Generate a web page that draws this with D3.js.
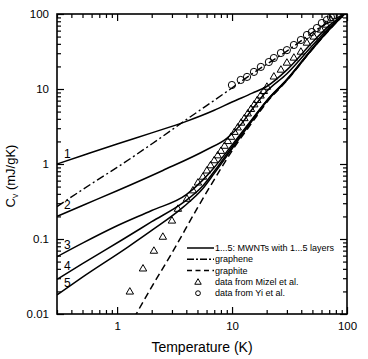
<!DOCTYPE html>
<html>
<head>
<meta charset="utf-8">
<script src="https://cdn.jsdelivr.net/npm/d3@7"></script>
<style>
  body { margin: 0; background: #fff; }
  svg { font-family: "Liberation Sans", Arial, sans-serif; }
</style>
</head>
<body>
<svg width="368" height="359"></svg>
<script>
// MWNT curves, 1..5 layers: [T (K), Cv (mJ/gK)]
const mwnt1 = [[0.3,1.0],[0.5,1.3],[1,1.85],[2,2.6],[4,3.7],[7,5.2],[10,6.7],[15,8.8],[20,10.8],[30,18],[50,42],[70,70],[95,100]];
const mwnt2 = [[0.3,0.2],[0.5,0.28],[1,0.44],[2.5,0.82],[6,1.55],[9,2.2],[12,3.4],[15,5.4],[20,9.3],[30,16],[50,38],[70,66],[95,100]];
const mwnt3 = [[0.3,0.058],[0.5,0.088],[1,0.15],[2,0.24],[4,0.39],[5.5,0.6],[7,0.9],[10,1.8],[15,4.0],[20,7.0],[30,13.5],[50,35],[70,63],[95,100]];
const mwnt4 = [[0.3,0.029],[0.5,0.047],[1.1,0.097],[2,0.17],[3.8,0.31],[5.5,0.5],[7,0.8],[10,1.7],[15,3.9],[20,6.9],[30,13.3],[50,34.5],[70,62],[95,100]];
const mwnt5 = [[0.3,0.018],[0.5,0.031],[1.24,0.078],[2,0.13],[3.8,0.27],[5.5,0.46],[7,0.75],[10,1.6],[15,3.8],[20,6.8],[30,13.1],[50,34],[70,61.5],[95,100]];
const graphene = [[0.3,0.27],[0.67,0.61],[1,0.9],[2,1.85],[4,3.9],[8.7,8.9],[15,16],[30,32],[60,68],[95,100]];
const graphite = [[1.4,0.0088],[2,0.023],[3,0.065],[5,0.26],[7,0.62],[10,1.5],[15,3.6],[20,6.6],[30,13],[50,34],[70,61],[95,100]];

// measured data
const mizel = [[1.29,0.0197],[1.68,0.040],[2.09,0.069],[2.5,0.106],[3.0,0.174],[3.38,0.25],[4.05,0.34],[4.57,0.44],[5.05,0.56],[5.58,0.67],[6.04,0.81],
  [6.5,0.95],[7,1.11],[7.5,1.29],[8,1.48],[8.6,1.73],[9.2,2.0],[9.8,2.28],[10.5,2.65],[11.2,3.04],[12,3.52],[12.8,4.04],[13.7,4.67],[14.6,5.36],
  [15.6,6.17],[16.6,7.05],[17.7,8.09],[18.9,9.3],[20.1,10.6],
  [23.1,14.5],[26.6,17.9],[30,22.2],[34.5,25.9],[39.7,31.1],[44.8,41],[51.5,49.4],[59.3,61.2],[65.5,71.3],[72.4,83]];
const yi = [[9.97,11.3],[11.9,13.2],[13.5,14.5],[15.5,16.9],[17.8,19.7],[20.9,22.9],[23.1,25.9],[26.6,30.2],[30,33],[34.5,38.6],
  [39.7,45],[44.8,52.5],[49.4,57.5],[54.7,65],[60.4,75.9],[66.8,83],[72.5,91],[77,96]];

const xTicks = [1, 10, 100];
const yTicks = [0.01, 0.1, 1, 10, 100];
const curveLabels = [["1", 1.36], ["2", 0.285], ["3", 0.083], ["4", 0.044], ["5", 0.026]];
const legendItems = [
  ["solid", "1...5: MWNTs with 1...5 layers"],
  ["dashdot", "graphene"],
  ["dash", "graphite"],
  ["triangle", "data from Mizel et al."],
  ["circle", "data from Yi et al."]
];

let svg = d3.select("svg"),
    mLeft = 57, mRight = 347, mTop = 14, mBottom = 314;

let x = d3.scaleLog().domain([0.3, 100]).range([mLeft, mRight]);
let y = d3.scaleLog().domain([0.01, 100]).range([mBottom, mTop]);

function minorTicks(domain) {
    let out = [];
    for (let d = -3; d <= 3; d++) {
        for (let m = 1; m <= 9; m++) {
            let v = m * Math.pow(10, d);
            if (v >= domain[0] * 0.999 && v <= domain[1] * 1.001) out.push(v);
        }
    }
    return out;
}
let xMinor = minorTicks(x.domain()).filter(v => xTicks.indexOf(v) < 0);
let yMinor = minorTicks(y.domain()).filter(v => yTicks.indexOf(v) < 0);

function styleAxis(g) {
    g.select(".domain").remove();
    g.selectAll("line").attr("stroke", "#000").attr("stroke-width", 1.2);
    g.selectAll("text").attr("fill", "#000").style("font-size", "11.5px");
}

// bottom
svg.append("g").attr("transform", "translate(0," + mBottom + ")")
    .call(d3.axisBottom(x).tickValues(xTicks).tickFormat(d3.format("")).tickSizeInner(-7).tickSizeOuter(0).tickPadding(8))
    .call(styleAxis);
svg.append("g").attr("transform", "translate(0," + mBottom + ")")
    .call(d3.axisBottom(x).tickValues(xMinor).tickFormat("").tickSizeInner(-4).tickSizeOuter(0))
    .call(styleAxis);
// top
svg.append("g").attr("transform", "translate(0," + mTop + ")")
    .call(d3.axisTop(x).tickValues(xTicks).tickFormat("").tickSizeInner(-7).tickSizeOuter(0))
    .call(styleAxis);
svg.append("g").attr("transform", "translate(0," + mTop + ")")
    .call(d3.axisTop(x).tickValues(xMinor).tickFormat("").tickSizeInner(-4).tickSizeOuter(0))
    .call(styleAxis);
// left
svg.append("g").attr("transform", "translate(" + mLeft + ",0)")
    .call(d3.axisLeft(y).tickValues(yTicks).tickFormat(d => String(d)).tickSizeInner(-7).tickSizeOuter(0).tickPadding(8))
    .call(styleAxis);
svg.append("g").attr("transform", "translate(" + mLeft + ",0)")
    .call(d3.axisLeft(y).tickValues(yMinor).tickFormat("").tickSizeInner(-4).tickSizeOuter(0))
    .call(styleAxis);
// right
svg.append("g").attr("transform", "translate(" + mRight + ",0)")
    .call(d3.axisRight(y).tickValues(yTicks).tickFormat("").tickSizeInner(-7).tickSizeOuter(0))
    .call(styleAxis);
svg.append("g").attr("transform", "translate(" + mRight + ",0)")
    .call(d3.axisRight(y).tickValues(yMinor).tickFormat("").tickSizeInner(-4).tickSizeOuter(0))
    .call(styleAxis);

svg.append("defs").append("clipPath").attr("id", "plot")
    .append("rect").attr("x", mLeft).attr("y", mTop).attr("width", mRight - mLeft).attr("height", mBottom - mTop);

let plot = svg.append("g").attr("clip-path", "url(#plot)");

let line = d3.line()
    .x(d => x(d[0]))
    .y(d => y(d[1]))
    .curve(d3.curveMonotoneX);

[mwnt1, mwnt2, mwnt3, mwnt4, mwnt5].forEach(function (s) {
    plot.append("path").attr("d", line(s))
        .attr("fill", "none").attr("stroke", "#000").attr("stroke-width", 1.5);
});
plot.append("path").attr("d", line(graphene))
    .attr("fill", "none").attr("stroke", "#000").attr("stroke-width", 1.4)
    .attr("stroke-dasharray", "8,3,2,3");
plot.append("path").attr("d", line(graphite))
    .attr("fill", "none").attr("stroke", "#000").attr("stroke-width", 1.5)
    .attr("stroke-dasharray", "7,4");

let tri = d3.symbol().type(d3.symbolTriangle).size(24);
plot.selectAll(".mizel").data(mizel).enter().append("path")
    .attr("class", "mizel")
    .attr("d", tri)
    .attr("transform", d => "translate(" + x(d[0]) + "," + y(d[1]) + ")")
    .attr("fill", "none").attr("stroke", "#000").attr("stroke-width", 1);

plot.selectAll(".yi").data(yi).enter().append("circle")
    .attr("class", "yi")
    .attr("cx", d => x(d[0])).attr("cy", d => y(d[1])).attr("r", 3.6)
    .attr("fill", "none").attr("stroke", "#000").attr("stroke-width", 1);

// frame
svg.append("rect").attr("x", mLeft).attr("y", mTop).attr("width", mRight - mLeft).attr("height", mBottom - mTop)
    .attr("fill", "none").attr("stroke", "#000").attr("stroke-width", 1.6);

// curve numbers
svg.selectAll(".clabel").data(curveLabels).enter().append("text")
    .attr("x", 64).attr("y", d => y(d[1]))
    .attr("dy", "0.35em")
    .style("font-size", "12px")
    .text(d => d[0]);

// legend
let legend = svg.append("g");
legendItems.forEach(function (item, i) {
    let ly = 248 + i * 11.3;
    if (item[0] === "triangle") {
        legend.append("path").attr("d", d3.symbol().type(d3.symbolTriangle).size(18))
            .attr("transform", "translate(198," + (ly + 0.5) + ")")
            .attr("fill", "none").attr("stroke", "#000").attr("stroke-width", 1);
    } else if (item[0] === "circle") {
        legend.append("circle").attr("cx", 198).attr("cy", ly).attr("r", 2.4)
            .attr("fill", "none").attr("stroke", "#000").attr("stroke-width", 1);
    } else {
        let dash = item[0] === "dashdot" ? "7,2,2,2" : (item[0] === "dash" ? "5,3.5" : null);
        legend.append("line").attr("x1", 187).attr("x2", 214).attr("y1", ly).attr("y2", ly)
            .attr("stroke", "#000").attr("stroke-width", 1.5)
            .attr("stroke-dasharray", dash);
    }
    legend.append("text").attr("x", 215).attr("y", ly).attr("dy", "0.35em")
        .style("font-size", "9px").text(item[1]);
});

// axis titles
svg.append("text")
    .attr("x", 202).attr("y", 352)
    .attr("text-anchor", "middle")
    .style("font-size", "14px")
    .text("Temperature (K)");

let yt = svg.append("text")
    .attr("transform", "translate(15,176) rotate(-90)")
    .attr("text-anchor", "middle")
    .style("font-size", "13px");
yt.append("tspan").text("C");
yt.append("tspan").attr("dy", "3").style("font-size", "8.5px").text("v");
yt.append("tspan").attr("dy", "-3").text(" (mJ/gK)");
</script>
</body>
</html>
